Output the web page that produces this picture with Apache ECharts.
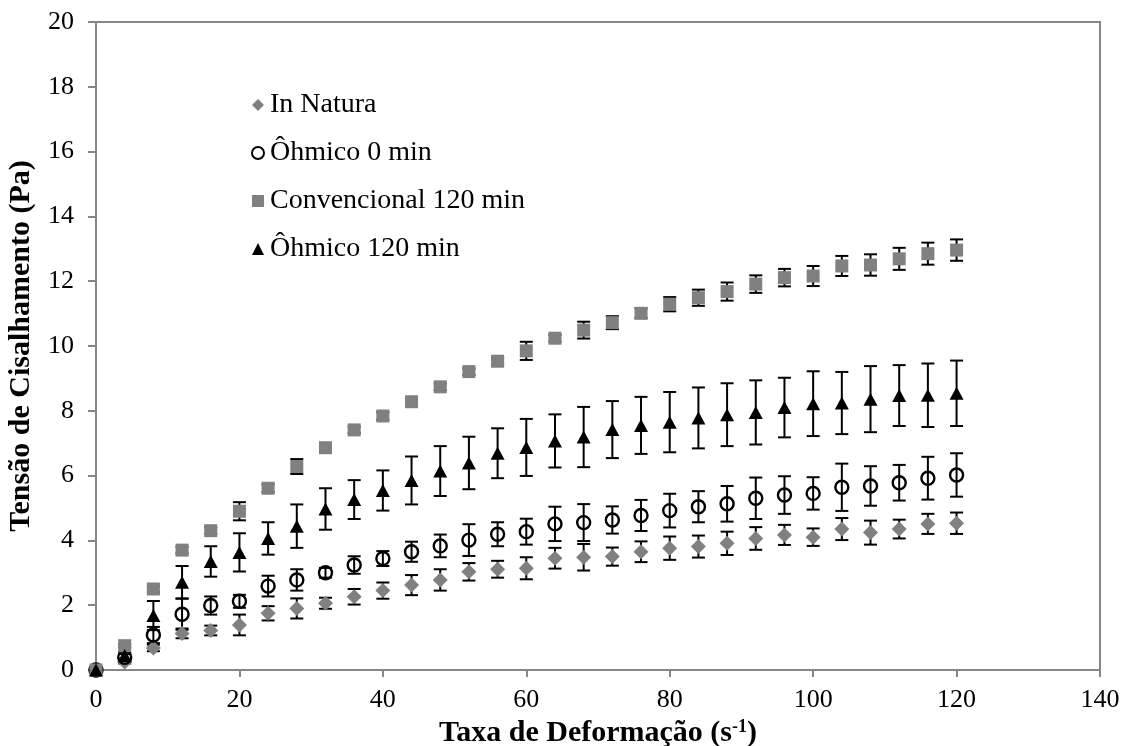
<!DOCTYPE html>
<html>
<head>
<meta charset="utf-8">
<script src="https://cdn.jsdelivr.net/npm/echarts@6/dist/echarts.min.js"></script>
<style>
  html, body { margin: 0; padding: 0; background: #fff; }
  #chart { width: 1123px; height: 746px; }
</style>
</head>
<body>
<div id="chart"></div>
<script>
// Shear rate (s^-1)
const shearRate = [0, 4, 8, 12, 16, 20, 24, 28, 32, 36, 40, 44, 48, 52, 56, 60,
  64, 68, 72, 76, 80, 84, 88, 92, 96, 100, 104, 108, 112, 116, 120];

// Shear stress (Pa) and standard deviation for each sample
const inNatura = [0, 0.25, 0.68, 1.13, 1.22, 1.39, 1.75, 1.90, 2.06, 2.26, 2.45, 2.62, 2.78, 3.03, 3.11, 3.14,
  3.45, 3.48, 3.50, 3.65, 3.76, 3.81, 3.91, 4.06, 4.17, 4.10, 4.35, 4.24, 4.35, 4.51, 4.53];
const inNaturaSd = [0, 0.05, 0.10, 0.15, 0.15, 0.32, 0.22, 0.31, 0.17, 0.24, 0.25, 0.31, 0.33, 0.27, 0.26, 0.34,
  0.32, 0.41, 0.28, 0.32, 0.36, 0.34, 0.36, 0.35, 0.31, 0.27, 0.34, 0.37, 0.29, 0.31, 0.33];

const ohmico0 = [0, 0.39, 1.08, 1.72, 1.99, 2.12, 2.59, 2.78, 3.00, 3.24, 3.44, 3.65, 3.83, 4.01, 4.19, 4.27,
  4.51, 4.55, 4.63, 4.77, 4.92, 5.04, 5.13, 5.30, 5.40, 5.45, 5.64, 5.68, 5.78, 5.92, 6.02];
const ohmico0Sd = [0, 0.10, 0.25, 0.48, 0.28, 0.20, 0.32, 0.33, 0.15, 0.27, 0.23, 0.31, 0.35, 0.49, 0.37, 0.40,
  0.53, 0.57, 0.42, 0.48, 0.52, 0.48, 0.55, 0.64, 0.58, 0.50, 0.73, 0.61, 0.55, 0.66, 0.67];

const convencional120 = [0, 0.75, 2.50, 3.70, 4.30, 4.90, 5.61, 6.28, 6.86, 7.41, 7.84, 8.28, 8.74, 9.21, 9.53, 9.85,
  10.24, 10.49, 10.72, 11.01, 11.29, 11.49, 11.68, 11.91, 12.11, 12.16, 12.47, 12.50, 12.69, 12.85, 12.96];
const convencional120Sd = [0, 0.05, 0.10, 0.10, 0.10, 0.28, 0.12, 0.23, 0.10, 0.10, 0.12, 0.12, 0.10, 0.10, 0.10, 0.28,
  0.10, 0.26, 0.20, 0.15, 0.22, 0.25, 0.28, 0.27, 0.27, 0.31, 0.31, 0.33, 0.34, 0.34, 0.33];

const ohmico120 = [0, 0.45, 1.68, 2.71, 3.35, 3.63, 4.06, 4.44, 4.97, 5.26, 5.54, 5.85, 6.14, 6.39, 6.69, 6.87,
  7.07, 7.19, 7.42, 7.55, 7.65, 7.78, 7.88, 7.95, 8.10, 8.22, 8.24, 8.36, 8.47, 8.48, 8.54];
const ohmico120Sd = [0, 0.10, 0.45, 0.50, 0.47, 0.59, 0.50, 0.67, 0.64, 0.60, 0.62, 0.74, 0.77, 0.81, 0.77, 0.88,
  0.82, 0.93, 0.88, 0.88, 0.93, 0.94, 0.97, 0.99, 0.92, 1.00, 0.96, 1.02, 0.94, 0.98, 1.01];

const xTicks = { min: 0, max: 140, interval: 20 };
const yTicks = { min: 0, max: 20, interval: 2 };

const FONT = '"Liberation Serif", "Times New Roman", serif';
const AXIS_GRAY = '#868686';
const MARK_GRAY = '#808080';

function points(ys) {
  return shearRate.map((x, i) => [x, ys[i]]);
}

// Vertical error bar with caps: value = [x, y, sd]
function errorBars(name, ys, sds) {
  return {
    name: name,
    type: 'custom',
    z: 1,
    silent: true,
    data: shearRate.map((x, i) => [x, ys[i], sds[i]]),
    encode: { x: 0, y: 1 },
    renderItem: function (params, api) {
      const x = api.value(0), y = api.value(1), sd = api.value(2);
      if (!sd) return null;
      const hi = api.coord([x, y + sd]);
      const lo = api.coord([x, y - sd]);
      const cap = 6.5;
      const style = { stroke: '#000', lineWidth: 2 };
      return {
        type: 'group',
        children: [
          { type: 'line', shape: { x1: hi[0], y1: hi[1], x2: lo[0], y2: lo[1] }, style: style },
          { type: 'line', shape: { x1: hi[0] - cap, y1: hi[1], x2: hi[0] + cap, y2: hi[1] }, style: style },
          { type: 'line', shape: { x1: lo[0] - cap, y1: lo[1], x2: lo[0] + cap, y2: lo[1] }, style: style }
        ]
      };
    }
  };
}

const chart = echarts.init(document.getElementById('chart'), null, { renderer: 'canvas' });

chart.setOption({
  animation: false,
  backgroundColor: '#fff',
  textStyle: { fontFamily: FONT, color: '#000' },
  grid: {
    left: 96, right: 23, top: 22, bottom: 76,
    outerBoundsMode: 'none',
    containLabel: false,
    show: true, borderColor: AXIS_GRAY, borderWidth: 2, backgroundColor: 'transparent'
  },
  legend: {
    orient: 'vertical',
    left: 246,
    top: 86,
    itemWidth: 12,
    itemHeight: 12,
    itemGap: 20,
    textStyle: { fontFamily: FONT, fontSize: 28, color: '#000', lineHeight: 28, padding: [0, 0, 0, 1] },
    data: [
      { name: 'In Natura', icon: 'diamond', itemStyle: { color: MARK_GRAY } },
      { name: 'Ôhmico 0 min', icon: 'circle', itemStyle: { color: 'transparent', borderColor: '#000', borderWidth: 2 } },
      { name: 'Convencional 120 min', icon: 'rect', itemStyle: { color: MARK_GRAY } },
      { name: 'Ôhmico 120 min', icon: 'triangle', itemStyle: { color: '#000' } }
    ]
  },
  xAxis: {
    type: 'value',
    min: xTicks.min, max: xTicks.max, interval: xTicks.interval,
    name: 'Taxa de Deformação (s{sup|-1})',
    nameLocation: 'middle',
    nameGap: 43,
    nameTextStyle: {
      fontFamily: FONT, fontSize: 30, fontWeight: 'bold', color: '#000',
      rich: { sup: { fontFamily: FONT, fontSize: 18, fontWeight: 'bold', verticalAlign: 'top', padding: [0, 0, 12, 0] } }
    },
    axisLine: { lineStyle: { color: AXIS_GRAY, width: 2 } },
    axisTick: { show: true, inside: false, length: 7, lineStyle: { color: AXIS_GRAY, width: 2 } },
    axisLabel: { fontFamily: FONT, fontSize: 26, color: '#000', margin: 17 },
    splitLine: { show: false }
  },
  yAxis: {
    type: 'value',
    min: yTicks.min, max: yTicks.max, interval: yTicks.interval,
    name: 'Tensão de Cisalhamento (Pa)',
    nameLocation: 'middle',
    nameGap: 60,
    nameTextStyle: { fontFamily: FONT, fontSize: 30, fontWeight: 'bold', color: '#000' },
    axisLine: { show: true, lineStyle: { color: AXIS_GRAY, width: 2 } },
    axisTick: { show: true, inside: false, length: 8, lineStyle: { color: AXIS_GRAY, width: 2 } },
    axisLabel: { fontFamily: FONT, fontSize: 26, color: '#000', margin: 22 },
    splitLine: { show: false }
  },
  series: [
    errorBars('In Natura DP', inNatura, inNaturaSd),
    errorBars('Ôhmico 0 min DP', ohmico0, ohmico0Sd),
    errorBars('Convencional 120 min DP', convencional120, convencional120Sd),
    errorBars('Ôhmico 120 min DP', ohmico120, ohmico120Sd),
    {
      name: 'In Natura', type: 'scatter', z: 3,
      symbol: 'diamond', symbolSize: 15,
      itemStyle: { color: MARK_GRAY, opacity: 1 },
      data: points(inNatura)
    },
    {
      name: 'Ôhmico 0 min', type: 'scatter', z: 4,
      symbol: 'circle', symbolSize: 13,
      itemStyle: { color: 'transparent', borderColor: '#000', borderWidth: 2.4, opacity: 1 },
      data: points(ohmico0)
    },
    {
      name: 'Convencional 120 min', type: 'scatter', z: 5,
      symbol: 'rect', symbolSize: 13,
      itemStyle: { color: MARK_GRAY, opacity: 1 },
      data: points(convencional120)
    },
    {
      name: 'Ôhmico 120 min', type: 'scatter', z: 6,
      symbol: 'triangle', symbolSize: [14, 13],
      itemStyle: { color: '#000', opacity: 1 },
      data: points(ohmico120)
    }
  ]
});
</script>
</body>
</html>
